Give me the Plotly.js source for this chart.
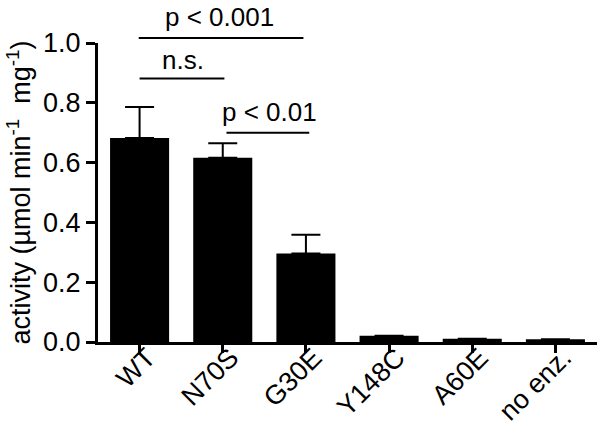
<!DOCTYPE html>
<html>
<head>
<meta charset="utf-8">
<script src="https://cdn.plot.ly/plotly-3.0.1.min.js"></script>
<style>html,body{margin:0;padding:0;background:#fff;}#chart{width:600px;height:432px;}</style>
</head>
<body>
<div id="chart"></div>
<script>
const categories = ["WT", "N70S", "G30E", "Y148C", "A60E", "no enz."];
const activity = [0.682, 0.616, 0.296, 0.021, 0.011, 0.009];
const errorUp = [0.104, 0.049, 0.063, 0.0, 0.0, 0.0];
const errorDown = [0, 0, 0, 0, 0, 0];

// significance brackets (category index span, activity level, label)
const sigStart = [-0.01, 0.0, 1.045];
const sigEnd = [1.97, 1.02, 2.04];
const sigLevel = [1.017, 0.881, 0.700];
const sigLabels = ["p < 0.001", "n.s.", "p < 0.01"];
const sigLabelX = [0.96, 0.52, 1.56];
const sigLabelLevel = [1.086, 0.942, 0.768];

const Y_MIN = 0, Y_MAX = 1.0;
const toPaper = v => (v - Y_MIN) / (Y_MAX - Y_MIN);

const FONT = "Liberation Sans, Arial, sans-serif";

const trace = {
  type: "bar",
  x: categories,
  y: activity,
  marker: {color: "#000000", line: {width: 0}},
  width: 0.71,
  error_y: {
    type: "data",
    symmetric: false,
    array: errorUp,
    arrayminus: errorDown,
    color: "#000000",
    thickness: 2,
    width: 14.5
  },
  cliponaxis: false,
  hoverinfo: "none"
};

const shapes = sigLabels.map((_, i) => ({
  type: "line", xref: "x", yref: "paper",
  x0: sigStart[i], x1: sigEnd[i], y0: toPaper(sigLevel[i]), y1: toPaper(sigLevel[i]),
  line: {color: "#000000", width: 2}
}));

const annotations = sigLabels.map((t, i) => ({
  text: t, xref: "x", yref: "paper", x: sigLabelX[i], y: toPaper(sigLabelLevel[i]),
  showarrow: false, xanchor: "center", yanchor: "middle",
  font: {family: FONT, size: 26, color: "#000000"}
}));

const layout = {
  width: 600, height: 432,
  margin: {l: 98, r: 3, t: 43, b: 90, pad: 0},
  paper_bgcolor: "#ffffff", plot_bgcolor: "#ffffff",
  showlegend: false,
  font: {family: FONT, size: 26, color: "#000000"},
  xaxis: {
    type: "category",
    range: [-0.5, 5.5],
    showline: true, linecolor: "#000000", linewidth: 3,
    ticks: "outside", ticklen: 8, tickwidth: 3, tickcolor: "#000000",
    tickangle: -45,
    ticklabelstandoff: -22,
    ticklabelshift: 8,
    tickfont: {family: FONT, size: 27, color: "#000000"},
    showgrid: false, zeroline: false, fixedrange: true
  },
  yaxis: {
    range: [Y_MIN, Y_MAX],
    tickvals: [0, 0.2, 0.4, 0.6, 0.8, 1.0],
    ticktext: ["0.0", "0.2", "0.4", "0.6", "0.8", "1.0"],
    showline: true, linecolor: "#000000", linewidth: 3,
    ticks: "outside", ticklen: 9, tickwidth: 3, tickcolor: "#000000",
    tickfont: {family: FONT, size: 27, color: "#000000"},
    showgrid: false, zeroline: false, fixedrange: true,
    title: {
      text: "activity (µmol min<sup>-1</sup>  mg<sup>-1</sup>)",
      font: {family: FONT, size: 27, color: "#000000"},
      standoff: 5
    }
  },
  shapes: shapes,
  annotations: annotations
};

Plotly.newPlot("chart", [trace], layout, {staticPlot: true, displayModeBar: false});
</script>
</body>
</html>
